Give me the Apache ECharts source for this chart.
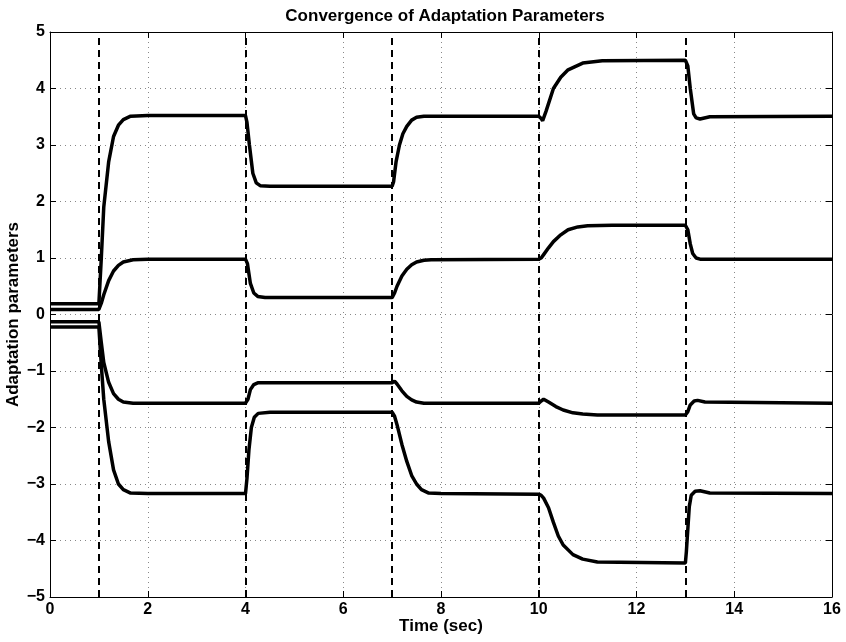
<!DOCTYPE html>
<html>
<head>
<meta charset="utf-8">
<script src="https://cdn.jsdelivr.net/npm/echarts@6/dist/echarts.min.js"></script>
<style>
  html, body { margin: 0; padding: 0; background: #fff; }
  #main { width: 846px; height: 642px; }
</style>
</head>
<body>
<div id="main"></div>
<script>
// parameter trajectories: [time, value]
const paramA = [
  [0, 0.19], [1, 0.19], [1.05, 1.0], [1.1, 1.9], [1.2, 2.7], [1.3, 3.15], [1.4, 3.35], [1.5, 3.45], [1.65, 3.51], [2, 3.52],
  [4, 3.52], [4.03, 3.4], [4.08, 3.0], [4.15, 2.5], [4.22, 2.33], [4.3, 2.28], [4.5, 2.27],
  [7, 2.27], [7.03, 2.35], [7.08, 2.7], [7.15, 3.0], [7.22, 3.2], [7.3, 3.33], [7.4, 3.44], [7.5, 3.49], [7.65, 3.51],
  [10, 3.51], [10.05, 3.47], [10.08, 3.43], [10.15, 3.6], [10.3, 4.0], [10.45, 4.2], [10.6, 4.33], [10.9, 4.45], [11.3, 4.49],
  [13, 4.5], [13.05, 4.4], [13.1, 4.0], [13.17, 3.55], [13.22, 3.48], [13.3, 3.46], [13.5, 3.5], [16, 3.51]
];
const paramB = [
  [0, 0.09], [1, 0.09], [1.05, 0.2], [1.1, 0.35], [1.2, 0.6], [1.3, 0.77], [1.4, 0.87], [1.5, 0.93], [1.7, 0.97], [2, 0.98],
  [4, 0.98], [4.04, 0.9], [4.1, 0.55], [4.17, 0.38], [4.25, 0.32], [4.4, 0.3],
  [7, 0.3], [7.05, 0.38], [7.1, 0.5], [7.2, 0.68], [7.3, 0.8], [7.4, 0.88], [7.5, 0.93], [7.65, 0.96], [7.8, 0.97],
  [10, 0.98], [10.05, 1.0], [10.1, 1.06], [10.2, 1.18], [10.3, 1.29], [10.45, 1.41], [10.6, 1.5], [10.8, 1.55], [11.0, 1.57], [11.5, 1.58],
  [13, 1.58], [13.05, 1.5], [13.1, 1.25], [13.15, 1.08], [13.22, 1.0], [13.3, 0.98], [16, 0.98]
];
const paramC = [
  [0, -0.13], [1, -0.13], [1.05, -0.5], [1.1, -0.85], [1.2, -1.2], [1.3, -1.4], [1.4, -1.5], [1.5, -1.55], [1.7, -1.57],
  [4, -1.57], [4.05, -1.5], [4.1, -1.33], [4.17, -1.24], [4.25, -1.21], [4.5, -1.21],
  [7, -1.21], [7.05, -1.18], [7.1, -1.23], [7.2, -1.35], [7.3, -1.45], [7.4, -1.51], [7.5, -1.55], [7.65, -1.57],
  [10, -1.57], [10.05, -1.53], [10.1, -1.5], [10.2, -1.55], [10.35, -1.63], [10.5, -1.69], [10.7, -1.74], [10.9, -1.76], [11.2, -1.78],
  [13, -1.78], [13.05, -1.72], [13.1, -1.6], [13.18, -1.53], [13.25, -1.52], [13.4, -1.55], [16, -1.57]
];
const paramD = [
  [0, -0.22], [1, -0.22], [1.05, -0.9], [1.1, -1.5], [1.2, -2.25], [1.3, -2.75], [1.4, -3.0], [1.5, -3.1], [1.65, -3.16], [2, -3.17],
  [4, -3.17], [4.03, -2.9], [4.07, -2.4], [4.12, -2.0], [4.18, -1.82], [4.26, -1.75], [4.5, -1.73],
  [7, -1.73], [7.05, -1.8], [7.1, -1.95], [7.2, -2.3], [7.3, -2.6], [7.4, -2.85], [7.5, -3.0], [7.6, -3.1], [7.75, -3.16], [8, -3.17],
  [10, -3.18], [10.05, -3.2], [10.1, -3.25], [10.2, -3.42], [10.3, -3.68], [10.4, -3.92], [10.5, -4.08], [10.7, -4.25], [10.9, -4.33], [11.2, -4.38],
  [13, -4.4], [13.02, -4.2], [13.05, -3.8], [13.08, -3.4], [13.12, -3.2], [13.2, -3.13], [13.3, -3.12], [13.5, -3.16], [16, -3.17]
];
// instants where the plant parameters switch (dashed lines)
const switchTimes = [1, 4, 7, 10, 13];

const font = 'Liberation Sans, Arial, Helvetica, sans-serif';
const minus = v => String(v).replace('-', '\u2212');

let chart = echarts.init(document.getElementById('main'));

const lineSeries = [paramA, paramB, paramC, paramD].map(function (d, i) {
  let s = {
    type: 'line',
    data: d,
    showSymbol: false,
    smooth: false,
    lineStyle: { color: '#000', width: 3.5 },
    z: 3
  };
  if (i === 0) {
    s.markLine = {
      silent: true,
      symbol: 'none',
      label: { show: false },
      lineStyle: { color: '#000', width: 2, type: [7, 5] },
      data: switchTimes.map(t => ({ xAxis: t }))
    };
  }
  return s;
});

let option = {
  animation: false,
  backgroundColor: '#fff',
  title: {
    text: 'Convergence of Adaptation Parameters',
    left: 440,
    textAlign: 'center',
    top: 3,
    textStyle: { fontFamily: font, fontWeight: 'bold', fontSize: 17, color: '#000' }
  },
  grid: { left: 50, right: 14, top: 32, bottom: 45, outerBoundsMode: 'none' },
  xAxis: [
    {
      type: 'value', min: 0, max: 16, interval: 2,
      name: 'Time (sec)', nameLocation: 'middle', nameGap: 21, nameMoveOverlap: false,
      nameTextStyle: { fontFamily: font, fontWeight: 'bold', fontSize: 17, color: '#000' },
      axisLine: { onZero: false, lineStyle: { color: '#000', width: 1 } },
      axisTick: { inside: true, length: 6, lineStyle: { color: '#000' } },
      axisLabel: { fontFamily: font, fontWeight: 'bold', fontSize: 16, color: '#000', margin: 5 },
      splitLine: { show: true, lineStyle: { color: '#888', width: 1, type: [1, 4] } }
    },
    {
      type: 'value', min: 0, max: 16, interval: 2, position: 'top',
      axisLine: { onZero: false, lineStyle: { color: '#000', width: 1 } },
      axisTick: { inside: true, length: 6, lineStyle: { color: '#000' } },
      axisLabel: { show: false },
      splitLine: { show: false }
    }
  ],
  yAxis: [
    {
      type: 'value', min: -5, max: 5, interval: 1,
      name: 'Adaptation parameters', nameLocation: 'middle', nameGap: 28, nameRotate: 90, nameMoveOverlap: false,
      nameTextStyle: { fontFamily: font, fontWeight: 'bold', fontSize: 17, color: '#000' },
      axisLine: { onZero: false, lineStyle: { color: '#000', width: 1 } },
      axisTick: { inside: true, length: 6, lineStyle: { color: '#000' } },
      axisLabel: { fontFamily: font, fontWeight: 'bold', fontSize: 16, color: '#000', margin: 5, formatter: minus },
      splitLine: { show: true, lineStyle: { color: '#888', width: 1, type: [1, 4] } }
    },
    {
      type: 'value', min: -5, max: 5, interval: 1, position: 'right',
      axisLine: { onZero: false, lineStyle: { color: '#000', width: 1 } },
      axisTick: { inside: true, length: 6, lineStyle: { color: '#000' } },
      axisLabel: { show: false },
      splitLine: { show: false }
    }
  ],
  series: lineSeries
};
chart.setOption(option);
</script>
</body>
</html>
